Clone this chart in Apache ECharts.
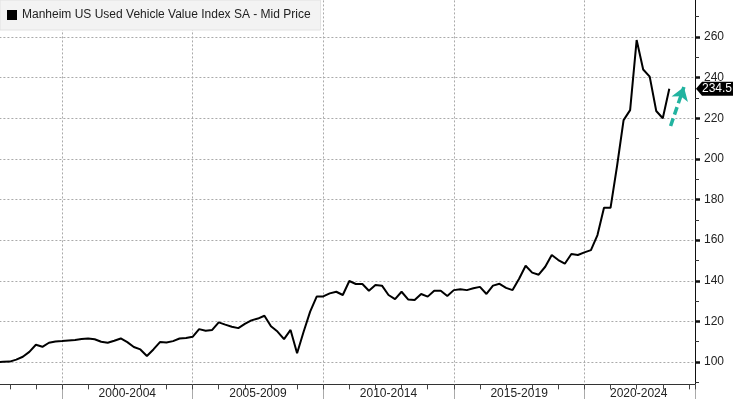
<!DOCTYPE html>
<html>
<head>
	<meta charset="utf-8">
	<title>Manheim US Used Vehicle Value Index</title>
	<script src="https://cdn.jsdelivr.net/npm/echarts@6.0.0/dist/echarts.min.js"></script>
	<style>
		html, body { margin: 0; padding: 0; background: #fff; }
	</style>
</head>
<body>
	<div id="main" style="width: 733px;height:399px;"></div>

	<script type="text/javascript">
		// quarterly readings, first quarter = 1997 Q3
		var firstQuarter = 1997.5;
		var values = [
			100.0, 100.1, 100.2, 101.2, 102.6, 105.0, 108.5, 107.5, 109.5, 110.1,
			110.3, 110.6, 110.9, 111.3, 111.6, 111.2, 110.0, 109.5, 110.5, 111.6,
			109.8, 107.4, 106.2, 103.0, 106.2, 109.8, 109.6, 110.3, 111.6, 111.8,
			112.4, 116.2, 115.4, 115.8, 119.5, 118.4, 117.4, 116.7, 118.8, 120.5,
			121.4, 122.8, 117.6, 115.0, 111.3, 115.8, 104.3, 114.9, 124.8, 132.2,
			132.3, 133.8, 134.6, 133.0, 139.9, 138.4, 138.4, 135.1, 137.9, 137.6,
			133.0, 131.0, 134.6, 130.8, 130.5, 133.5, 132.2, 135.1, 135.1, 132.5,
			135.4, 135.8, 135.4, 136.3, 137.0, 133.5, 137.6, 138.5, 136.5, 135.4,
			141.0, 147.4, 144.0, 143.0, 146.9, 152.7, 150.2, 148.4, 153.2, 152.7,
			154.0, 155.1, 162.5, 175.9, 175.9, 196.5, 219.1, 224.0, 258.5, 244.0,
			240.5, 223.6, 220.0, 234.5
		];
		var seriesName = 'Manheim US Used Vehicle Value Index SA - Mid Price';
		var periodLabels = ['2000-2004', '2005-2009', '2010-2014', '2015-2019', '2020-2024'];
		var lastValue = 234.5;
		var arrowFrom = [2023.30, 216.2];
		var arrowTo = [2023.81, 235.4];

		var points = values.map(function (v, i) {
			return [firstQuarter + i * 0.25, v];
		});

		var xMin = 1995, xMax = 2024.234;
		var font = 'Liberation Sans';
		var myChart = echarts.init(document.getElementById('main'));

		var option = {
			backgroundColor: '#fff',
			animation: false,
			textStyle: { fontFamily: font },
			legend: {
				data: [seriesName],
				left: 0,
				top: 0,
				padding: [9, 10, 9, 7],
				itemWidth: 10,
				itemHeight: 10,
				icon: 'rect',
				backgroundColor: '#f3f3f3',
				borderColor: '#e2e2e2',
				borderWidth: 1,
				textStyle: { fontFamily: font, fontSize: 12, color: '#222' }
			},
			grid: [
				{ left: -68.6, width: 763.6, top: -3.6, height: 406.25, outerBoundsMode: 'none', containLabel: false },
				{ left: -68.6, width: 763.6, top: 0, height: 384.3, outerBoundsMode: 'none', containLabel: false }
			],
			xAxis: [{
				type: 'value', position: 'bottom', min: xMin, max: xMax, interval: 5, offset: -18.3,
				axisLine: { lineStyle: { color: '#333', width: 1 } },
				axisTick: { length: 15, lineStyle: { color: '#aaa' } },
				axisLabel: { show: false },
				splitLine: { show: true, lineStyle: { color: '#aaa', type: [2, 2] } }
			}, {
				type: 'value', position: 'bottom', min: xMin, max: xMax, interval: 1, offset: -18.3,
				axisLine: { show: false },
				axisTick: { length: 5, lineStyle: { color: '#444' } },
				axisLabel: { show: false },
				splitLine: { show: false }
			}, {
				type: 'value', position: 'bottom', min: xMin, max: xMax, interval: 2.5, offset: -18.3,
				axisLine: { show: false },
				axisTick: { show: false },
				splitLine: { show: false },
				axisLabel: {
					margin: 3,
					fontSize: 12,
					color: '#222',
					fontFamily: font,
					showMinLabel: false,
					showMaxLabel: false,
					formatter: function (v) {
						var k = Math.round((v - 2002.5) / 5);
						if (Math.abs(v - (2002.5 + k * 5)) > 0.01 || k < 0 || k >= periodLabels.length) return '';
						if (k === periodLabels.length - 1) return '{last|' + periodLabels[k] + '}';
						return periodLabels[k];
					},
					rich: {
						last: { fontSize: 12, color: '#222', fontFamily: font, padding: [0, 22, 0, 0] }
					}
				}
			}, {
				gridIndex: 1, type: 'value', min: xMin, max: xMax, show: false
			}],
			yAxis: [{
				type: 'value', position: 'right', min: 80, max: 280, interval: 20,
				axisLine: { show: false },
				axisTick: { show: true, length: 5, lineStyle: { color: '#111', width: 2.5 } },
				minorTick: { show: true, splitNumber: 2, length: 4, lineStyle: { color: '#333' } },
				axisLabel: {
					margin: 9,
					fontSize: 12,
					color: '#222',
					fontFamily: font,
					formatter: function (v) { return (v >= 100 && v <= 260) ? v : ''; }
				},
				splitLine: { show: true, lineStyle: { color: '#aaa', type: [2, 2] } }
			}, {
				gridIndex: 1, type: 'value', position: 'right', min: 0, max: 1,
				axisLine: { show: true, lineStyle: { color: '#111', width: 1 } },
				axisTick: { show: false },
				axisLabel: { show: false },
				splitLine: { show: false }
			}],
			series: [{
				name: seriesName,
				type: 'line',
				data: points,
				showSymbol: false,
				clip: false,
				color: '#000',
				lineStyle: { color: '#000', width: 2 },
				markPoint: {
					silent: true,
					data: [{
						coord: [xMax, lastValue],
						symbol: 'path://M0,6.5 L6,0 L40,0 L40,13 L6,13 Z',
						symbolSize: [40, 14],
						symbolKeepAspect: false,
						symbolOffset: [21, 0],
						itemStyle: { color: '#000' },
						label: {
							show: true,
							position: 'inside',
							offset: [1, 0],
							color: '#fff',
							fontSize: 12,
							fontFamily: font,
							formatter: String(lastValue)
						}
					}]
				},
				markLine: {
					silent: true,
					symbol: ['none', 'arrow'],
					symbolSize: 13,
					label: { show: false },
					lineStyle: { color: '#22b3a0', width: 3.5, type: [8, 4] },
					data: [[{ coord: arrowFrom }, { coord: arrowTo }]]
				}
			}]
		};

		myChart.setOption(option);
	</script>
</body>
</html>
